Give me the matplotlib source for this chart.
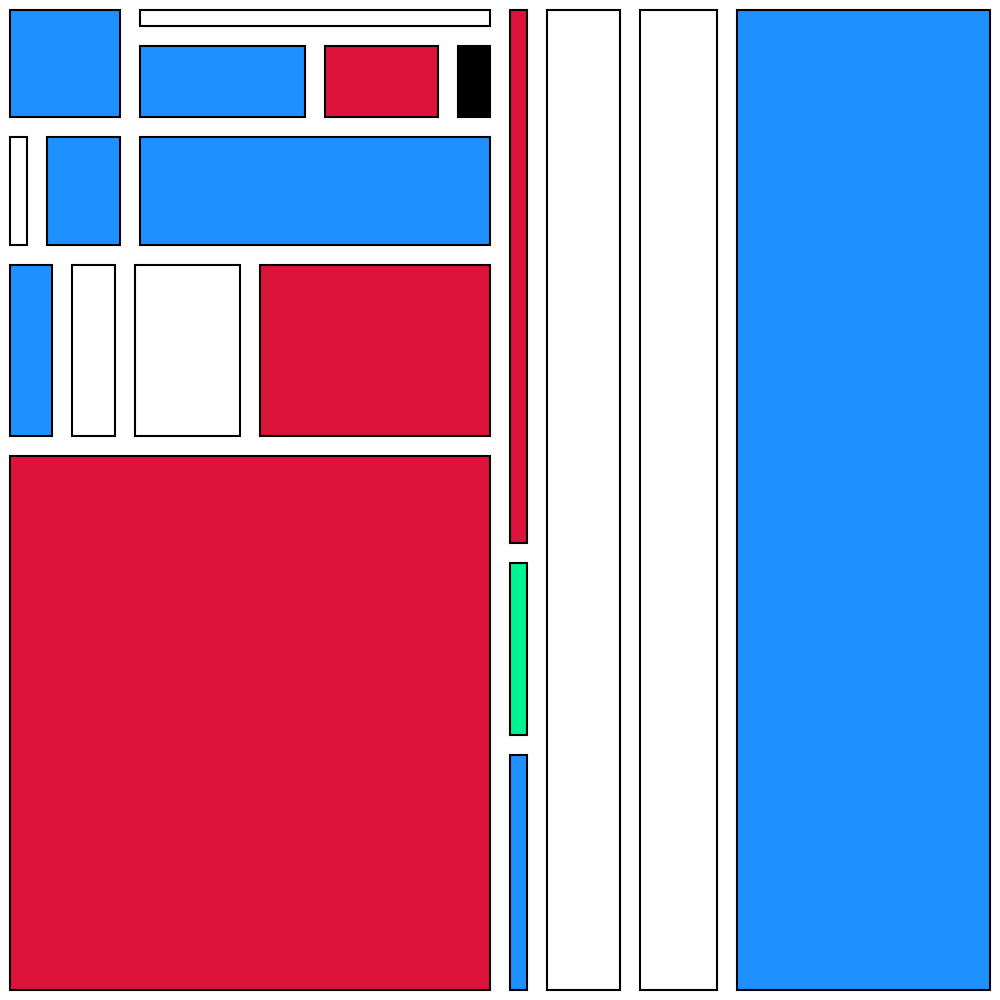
import matplotlib
matplotlib.use("Agg")
import matplotlib.pyplot as plt
from matplotlib.patches import Rectangle

BLUE = "#1E90FF"
RED = "#DC143C"
WHITE = "#FFFFFF"
BLACK = "#000000"
GREEN = "#00F291"

# leaf values (areas, in thousands of px^2) and colours, nested as a slice-and-dice tree
row1_sub_bottom = [(16.835, BLUE), (12.103, RED), (4.732, BLACK)]
row1_sub = [(13.32, WHITE), row1_sub_bottom]
row1 = [(16.51, BLUE), row1_sub]
row2 = [(4.736, WHITE), (11.904, BLUE), (47.36, BLUE)]
row3 = [(11.842, BLUE), (12.033, WHITE), (23.875, WHITE), (47.75, RED)]
row4 = (277.0, RED)
left_col = [row1, row2, row3, row4]
thin_col = [(20.461, RED), (7.104, GREEN), (9.435, BLUE)]
tree = [left_col, thin_col, (93.0, WHITE), (97.0, WHITE), (273.0, BLUE)]

PAD = 10


def total(node):
    if isinstance(node, tuple):
        return node[0]
    return sum(total(c) for c in node)


def layout(node, x, y, w, h, depth, ax):
    if isinstance(node, tuple):
        ax.add_patch(Rectangle((x + PAD, y + PAD), w - 2*PAD, h - 2*PAD,
                               facecolor=node[1], edgecolor="black", linewidth=1.5))
        return
    s = total(node)
    for c in node:
        frac = total(c) / s
        if depth % 2 == 0:
            cw = w * frac
            layout(c, x, y, cw, h, depth + 1, ax)
            x += cw
        else:
            ch = h * frac
            layout(c, x, y, w, ch, depth + 1, ax)
            y += ch


fig = plt.figure(figsize=(10, 10), dpi=100)
ax = fig.add_axes([0, 0, 1, 1])
layout(tree, 0, 0, 1000, 1000, 0, ax)
ax.set_xlim(0, 1000)
ax.set_ylim(1000, 0)
ax.axis("off")
fig.savefig("out.png", dpi=100)
